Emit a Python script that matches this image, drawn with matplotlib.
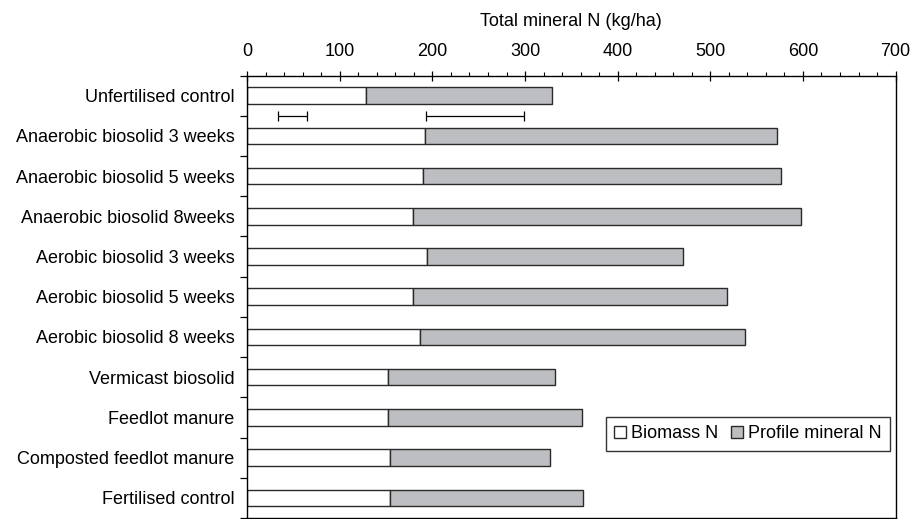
#!/usr/bin/env python3

from matplotlib import pyplot as plt
from matplotlib import ticker
import numpy as np

plt.rcParams['font.family'] = ['Liberation Sans', 'DejaVu Sans']

treatments = [
    'Unfertilised control',
    'Anaerobic biosolid 3 weeks',
    'Anaerobic biosolid 5 weeks',
    'Anaerobic biosolid 8weeks',
    'Aerobic biosolid 3 weeks',
    'Aerobic biosolid 5 weeks',
    'Aerobic biosolid 8 weeks',
    'Vermicast biosolid',
    'Feedlot manure',
    'Composted feedlot manure',
    'Fertilised control',
]
biomass_n = [128, 192, 190, 179, 194, 179, 187, 152, 152, 154, 154]
total_n = [329, 572, 576, 598, 471, 518, 537, 332, 361, 327, 363]
profile_n = [t - b for t, b in zip(total_n, biomass_n)]

# LSD bars (biomass, profile mineral): centre and half-width
lsd_centre = [49, 246]
lsd_half = [16, 53]

y = np.arange(len(treatments))
height = 0.41
fs = 13

fig = plt.figure(figsize=(9.12, 5.19), dpi=100)
ax = fig.add_axes([0.271, 0.002, 0.711, 0.8525])

ax.barh(y, biomass_n, height, color='white', edgecolor='#2a2a2a',
        linewidth=1.0, label='Biomass N')
ax.barh(y, profile_n, height, left=biomass_n, color='#bdbec1',
        edgecolor='#2a2a2a', linewidth=1.0, label='Profile mineral N')

ax.errorbar(lsd_centre, [0.5, 0.5], xerr=lsd_half, fmt='none',
            ecolor='black', elinewidth=0.9, capsize=3.5, capthick=0.9)

ax.set_xlim(0, 700)
ax.set_ylim(len(treatments) - 0.5, -0.5)

ax.xaxis.set_ticks_position('top')
ax.xaxis.set_label_position('top')
ax.xaxis.set_major_locator(ticker.MultipleLocator(100))
ax.xaxis.set_minor_locator(ticker.MultipleLocator(20))
ax.tick_params(axis='x', which='major', direction='inout', length=6.5,
               width=0.9, labelsize=fs, pad=8)
ax.tick_params(axis='x', which='minor', direction='out', length=3, width=0.8)
ax.set_xlabel('Total mineral N (kg/ha)', fontsize=fs, labelpad=12)

ax.set_yticks(y, treatments)
ax.yaxis.set_minor_locator(ticker.FixedLocator(np.arange(-0.5, len(treatments), 1)))
ax.tick_params(axis='y', which='major', length=0, labelsize=fs, pad=9)
ax.tick_params(axis='y', which='minor', direction='out', length=5, width=0.9)

for s in ax.spines.values():
    s.set_color('black')
    s.set_linewidth(1.0)

leg = ax.legend(loc='center right', bbox_to_anchor=(0.991, 0.19), ncols=2,
                fontsize=fs, frameon=True, fancybox=False, edgecolor='black',
                handlelength=0.7, handleheight=0.7, handletextpad=0.25,
                columnspacing=0.7, borderpad=0.45, borderaxespad=0)
leg.get_frame().set_linewidth(1.0)

plt.savefig('out.png', dpi=100)
plt.close()
